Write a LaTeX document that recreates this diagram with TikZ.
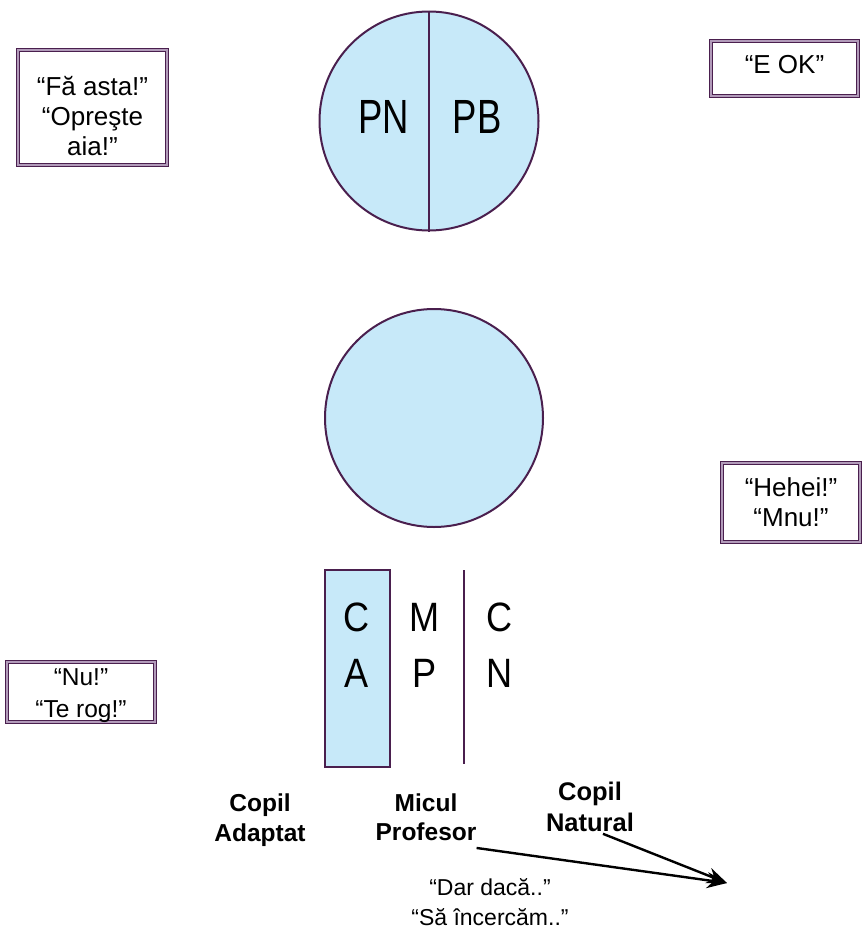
\documentclass[tikz,border=0pt]{standalone}
\usepackage{fontspec}
\setmainfont{Liberation Sans}
\usetikzlibrary{arrows.meta}
\definecolor{egofill}{HTML}{C7E9F9}
\definecolor{egoline}{HTML}{4A1F4E}
\definecolor{framemid}{HTML}{B29BBA}
\tikzset{
  ego/.style={draw=egoline, line width=2pt, fill=egofill},
  divider/.style={draw=egoline, line width=1.8pt},
  frame/.style={draw=egoline, line width=0.8pt, double=framemid, double distance=1.6pt, inner sep=0pt},
  quote/.style={align=center, inner sep=0pt, font=\fontsize{26}{30}\selectfont},
  big/.style={inner sep=0pt, font=\fontsize{48}{48}\selectfont},
  letter/.style={inner sep=0pt, font=\fontsize{41}{41}\selectfont},
  label/.style={align=center, inner sep=0pt, font=\fontsize{24.5}{29.5}\selectfont\bfseries},
  saying/.style={align=center, inner sep=0pt, font=\fontsize{23}{29.5}\selectfont},
  pointer/.style={line width=2.4pt, -{Stealth[length=20pt,width=16pt]}}
}
\begin{document}
\begin{tikzpicture}[x=1pt,y=-1pt]
\useasboundingbox (0,0) rectangle (862,929);

% Parent ego state, split in two halves
\node[ego, circle, minimum size=219pt, inner sep=0pt] (parent) at (429,121) {};
\draw[divider] (parent.north) -- (parent.south);
\node[big] (pn) at (384,117) {\scalebox{0.76}[1]{PN}};
\node[big] (pb) at (477,117) {\scalebox{0.76}[1]{PB}};

% Adult ego state
\node[ego, circle, minimum size=218pt, inner sep=0pt] (adult) at (434,418) {};

% Child ego state: CA shaded, MP and CN
\node[ego, minimum width=65pt, minimum height=197pt, inner sep=0pt, anchor=north west] (ca) at (324,569) {};
\coordinate (divtop) at (464,570);
\coordinate (divbot) at (464,764);
\draw[divider] (divtop) -- (divbot);
\node[letter] (c1) at (357,617) {\scalebox{0.88}[1]{C}};
\node[letter] (a1) at (357,673) {\scalebox{0.88}[1]{A}};
\node[letter] (m2) at (425,617) {\scalebox{0.88}[1]{M}};
\node[letter] (p2) at (425,673) {\scalebox{0.88}[1]{P}};
\node[letter] (c3) at (500,617) {\scalebox{0.88}[1]{C}};
\node[letter] (n3) at (500,673) {\scalebox{0.88}[1]{N}};

% Quoted messages in framed boxes
\node[frame, minimum width=149pt, minimum height=115pt] (fa) at (92.5,107.5) {};
\node[quote] (fatext) at ([yshift=-9pt]fa.center) {“Fă asta!”\\“Opreşte\\aia!”};
\node[frame, minimum width=147pt, minimum height=55pt] (ok) at (784.5,68.5) {};
\node[quote] (oktext) at ([yshift=4pt]ok.center) {“E OK”};
\node[frame, minimum width=138pt, minimum height=79pt] (he) at (791,502.5) {};
\node[quote] (hetext) at (he.center) {“Hehei!”\\“Mnu!”};
\node[frame, minimum width=148pt, minimum height=60pt] (nu) at (81,692) {};
\node[quote, font=\fontsize{24.5}{30}\selectfont] (nutext) at ([yshift=-4pt]nu.center)
  {“Nu!”\\[2pt]“Te rog!”};

% Labels under the child
\node[label] (adapt) at (260,820) {Copil\\Adaptat};
\node[label] (prof) at (426,817) {Micul\\Profesor};
\node[label, font=\fontsize{25.5}{30.5}\selectfont\bfseries] (nat) at (590,807) {Copil\\Natural};
\node[saying] (say) at (490,902) {“Dar dacă..”\\“Să încercăm..”};

% Arrows converging on one point
\coordinate (tip) at (727,883);
\draw[pointer] ([xshift=0pt,yshift=-7pt]prof.south east) -- (tip);
\draw[pointer] ([xshift=13pt,yshift=-2pt]nat.south) -- (tip);
\end{tikzpicture}
\end{document}
